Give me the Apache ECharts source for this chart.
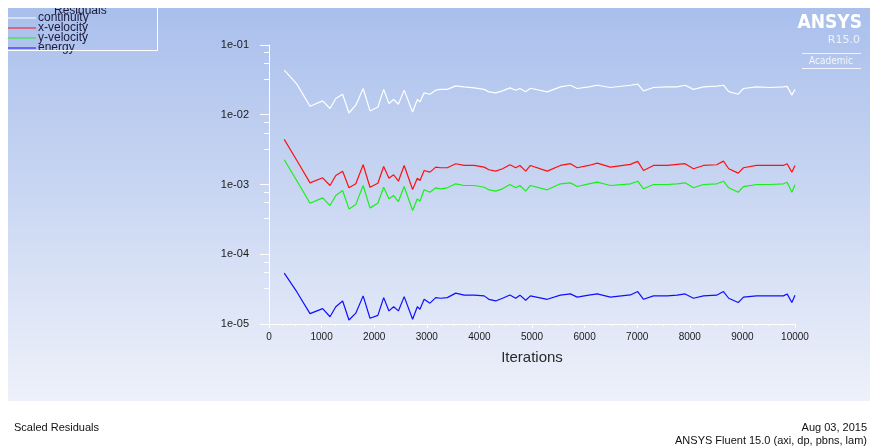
<!DOCTYPE html>
<html>
<head>
<meta charset="UTF-8" />
<title>Scaled Residuals</title>
<style>
  html, body { margin: 0; padding: 0; background: #fff; }
  #chart { width: 870px; height: 448px; }
</style>
</head>
<body>
<div id="chart"></div>
<script src="https://cdn.jsdelivr.net/npm/echarts@6/dist/echarts.min.js"></script>
<script>
  // iteration numbers where the residuals were sampled
  const iterations = [
    290, 530, 780, 1020, 1160, 1270, 1400, 1520, 1650, 1790,
    1920, 2070, 2180, 2280, 2370, 2460, 2570, 2730, 2820, 2870,
    2950, 3060, 3170, 3260, 3390, 3550, 3710, 3900, 4090, 4180,
    4310, 4440, 4580, 4690, 4770, 4880, 4970, 5290, 5540, 5730,
    5860, 6080, 6240, 6490, 6870, 7010, 7120, 7310, 7570, 7760,
    7910, 8070, 8260, 8510, 8640, 8740, 8920, 9020, 9270, 9530,
    9780, 9850, 9940, 10000
  ];

  const continuity = [
    0.0437, 0.0275, 0.01325, 0.0158, 0.01228, 0.0171, 0.0197, 0.0106, 0.0137, 0.0238,
    0.01135, 0.01294, 0.0231, 0.01449, 0.01655, 0.01416, 0.02254, 0.01097, 0.01655, 0.01528,
    0.0206, 0.0197, 0.0225, 0.0231, 0.0231, 0.0259, 0.0251, 0.0243, 0.0231, 0.0213,
    0.0206, 0.0220, 0.0243, 0.0225, 0.0238, 0.0213, 0.0240, 0.0213, 0.0251, 0.0265,
    0.0238, 0.0251, 0.0265, 0.0246, 0.0265, 0.0275, 0.0220, 0.0246, 0.0251, 0.0251,
    0.0265, 0.0231, 0.0251, 0.0257, 0.0265, 0.0215, 0.0197, 0.0238, 0.0251, 0.0246,
    0.0251, 0.0255, 0.0191, 0.0231
  ];

  const xVelocity = [
    0.00444, 0.00221, 0.001056, 0.001247, 0.000968, 0.001346, 0.001553, 0.000897, 0.001023, 0.001918,
    0.000914, 0.001044, 0.001815, 0.001233, 0.001380, 0.001115, 0.001875, 0.000848, 0.001233, 0.001143,
    0.001588, 0.001503, 0.001774, 0.001738, 0.001738, 0.001986, 0.001875, 0.001875, 0.001774, 0.001629,
    0.001553, 0.001683, 0.001918, 0.001738, 0.001875, 0.001553, 0.001875, 0.001553, 0.001875, 0.001986,
    0.001738, 0.001875, 0.002023, 0.001774, 0.001941, 0.002143, 0.001588, 0.001875, 0.001875, 0.001941,
    0.001986, 0.001683, 0.001875, 0.001918, 0.002165, 0.001683, 0.001455, 0.001738, 0.001875, 0.001875,
    0.001875, 0.001986, 0.001503, 0.001875
  ];

  const yVelocity = [
    0.002265, 0.00113, 0.000538, 0.000644, 0.000499, 0.000695, 0.000820, 0.000447, 0.000515, 0.000968,
    0.000462, 0.000538, 0.000914, 0.000623, 0.000695, 0.000569, 0.000935, 0.000423, 0.000623, 0.000576,
    0.000839, 0.000775, 0.000897, 0.000867, 0.000897, 0.001023, 0.000968, 0.000968, 0.000914, 0.000839,
    0.000802, 0.000867, 0.001000, 0.000897, 0.000968, 0.000802, 0.000968, 0.000839, 0.001023, 0.001056,
    0.000935, 0.001023, 0.001079, 0.000968, 0.001023, 0.001115, 0.000867, 0.001000, 0.001000, 0.001023,
    0.001056, 0.000897, 0.001000, 0.001023, 0.001115, 0.000897, 0.000775, 0.000935, 0.001000, 0.001000,
    0.001023, 0.001079, 0.000775, 0.000990
  ];

  const energy = [
    5.36e-5, 2.88e-5, 1.41e-5, 1.66e-5, 1.27e-5, 1.77e-5, 2.14e-5, 1.14e-5, 1.43e-5, 2.53e-5,
    1.21e-5, 1.33e-5, 2.39e-5, 1.54e-5, 1.77e-5, 1.54e-5, 2.47e-5, 1.17e-5, 1.77e-5, 1.63e-5,
    2.26e-5, 1.99e-5, 2.39e-5, 2.34e-5, 2.39e-5, 2.77e-5, 2.59e-5, 2.59e-5, 2.53e-5, 2.26e-5,
    2.14e-5, 2.34e-5, 2.61e-5, 2.34e-5, 2.59e-5, 2.19e-5, 2.53e-5, 2.26e-5, 2.59e-5, 2.70e-5,
    2.43e-5, 2.59e-5, 2.70e-5, 2.43e-5, 2.61e-5, 2.92e-5, 2.26e-5, 2.53e-5, 2.53e-5, 2.59e-5,
    2.70e-5, 2.34e-5, 2.53e-5, 2.59e-5, 2.92e-5, 2.34e-5, 2.03e-5, 2.43e-5, 2.53e-5, 2.53e-5,
    2.53e-5, 2.70e-5, 2.03e-5, 2.59e-5
  ];

  const seriesNames = ['continuity', 'x-velocity', 'y-velocity', 'energy'];
  const seriesColors = ['#ffffff', '#ff1010', '#18f018', '#1010ff'];
  const yTickLabels = ['1e-05', '1e-04', '1e-03', '1e-02', '1e-01'];

  const font = "'Liberation Sans', sans-serif";
  const chart = echarts.init(document.getElementById('chart'));

  const seriesData = [continuity, xVelocity, yVelocity, energy];

  const option = {
    animation: false,
    backgroundColor: '#ffffff',
    textStyle: { fontFamily: font },
    graphic: [
      // gradient panel behind the plot
      {
        type: 'rect', z: -10,
        shape: { x: 8, y: 8, width: 862, height: 393 },
        style: {
          fill: new echarts.graphic.LinearGradient(0, 0, 0, 1, [
            { offset: 0, color: '#a9bfec' },
            { offset: 1, color: '#eef1fa' }
          ])
        }
      },
      // legend box
      {
        type: 'rect', z: 5,
        shape: { x: 7.5, y: 7.5, width: 150, height: 43 },
        style: { fill: 'none', stroke: '#ffffff', lineWidth: 1 }
      },
      {
        type: 'text', z: 5, left: 54, top: 5,
        style: { text: 'Residuals', fontSize: 12, fill: '#1a1a3a', fontFamily: font }
      },
      {
        type: 'rect', z: 50,
        shape: { x: 0, y: 0, width: 870, height: 8 },
        style: { fill: '#ffffff' }
      },
      // ANSYS logo
      {
        type: 'text', z: 5,
        style: { text: 'ANSYS', x: 862, y: 14, align: 'right', fontSize: 19, fontWeight: 'bold', fill: '#ffffff', fontFamily: "'DejaVu Sans Condensed', 'DejaVu Sans', sans-serif" }
      },
      {
        type: 'text', z: 5,
        style: { text: 'R15.0', x: 860, y: 35, align: 'right', fontSize: 11, fill: '#eef2fb', fontFamily: "'DejaVu Sans', sans-serif" }
      },
      {
        type: 'line', z: 5,
        shape: { x1: 802, y1: 53.5, x2: 861, y2: 53.5 },
        style: { stroke: 'rgba(255,255,255,0.8)', lineWidth: 1 }
      },
      {
        type: 'text', z: 5,
        style: { text: 'Academic', x: 831, y: 56, align: 'center', fontSize: 10, fill: '#f4f6fc', fontFamily: "'DejaVu Sans Condensed', 'DejaVu Sans', sans-serif" }
      },
      {
        type: 'line', z: 5,
        shape: { x1: 802, y1: 68.5, x2: 861, y2: 68.5 },
        style: { stroke: 'rgba(255,255,255,0.8)', lineWidth: 1 }
      },
      // footer
      {
        type: 'text', z: 5,
        style: { text: 'Scaled Residuals', x: 14, y: 422, fontSize: 11, fill: '#111111', fontFamily: font }
      },
      {
        type: 'text', z: 5,
        style: { text: 'Aug 03, 2015', x: 867, y: 422, align: 'right', fontSize: 11, fill: '#111111', fontFamily: font }
      },
      {
        type: 'text', z: 5,
        style: { text: 'ANSYS Fluent 15.0 (axi, dp, pbns, lam)', x: 867, y: 435, align: 'right', fontSize: 11, fill: '#111111', fontFamily: font }
      }
    ],
    legend: {
      orient: 'vertical',
      left: 8,
      top: 12,
      padding: 0,
      itemGap: -2,
      itemWidth: 28,
      itemHeight: 1,
      icon: 'rect',
      selectedMode: false,
      data: seriesNames,
      textStyle: { fontSize: 12, lineHeight: 10, color: '#1a1a3a', fontFamily: font, padding: [0, 0, 0, -3] }
    },
    grid: { left: 269, right: 75, top: 45, bottom: 124 },
    xAxis: {
      type: 'value',
      min: 0,
      max: 10000,
      interval: 1000,
      name: 'Iterations',
      nameLocation: 'middle',
      nameGap: 26,
      nameTextStyle: { fontSize: 15, color: '#2a2a2a', fontFamily: font },
      axisLine: { lineStyle: { color: '#ffffff', width: 1 } },
      axisTick: { length: 4, lineStyle: { color: '#ffffff' } },
      minorTick: { show: true, splitNumber: 4, length: 2, lineStyle: { color: '#ffffff' } },
      axisLabel: { fontSize: 10, color: '#1a1a1a', margin: 8, fontFamily: font, formatter: v => String(v) },
      splitLine: { show: false }
    },
    yAxis: {
      type: 'log',
      logBase: 10,
      min: 1e-5,
      max: 1e-1,
      axisLine: { show: true, lineStyle: { color: '#ffffff', width: 1 } },
      axisTick: { show: true, length: 9, lineStyle: { color: '#ffffff' } },
      minorTick: { show: true, splitNumber: 4, length: 5, lineStyle: { color: '#ffffff' } },
      axisLabel: {
        fontSize: 11,
        color: '#1a1a1a',
        margin: 20,
        fontFamily: font,
        formatter: v => yTickLabels[Math.round(Math.log10(v)) + 5]
      },
      splitLine: { show: false }
    },
    series: seriesNames.map((name, k) => ({
      name: name,
      type: 'line',
      showSymbol: false,
      symbol: 'none',
      data: iterations.map((it, i) => [it, seriesData[k][i]]),
      lineStyle: { color: seriesColors[k], width: 1.2 },
      itemStyle: { color: seriesColors[k] },
      emphasis: { disabled: true }
    }))
  };

  chart.setOption(option);
</script>
</body>
</html>
